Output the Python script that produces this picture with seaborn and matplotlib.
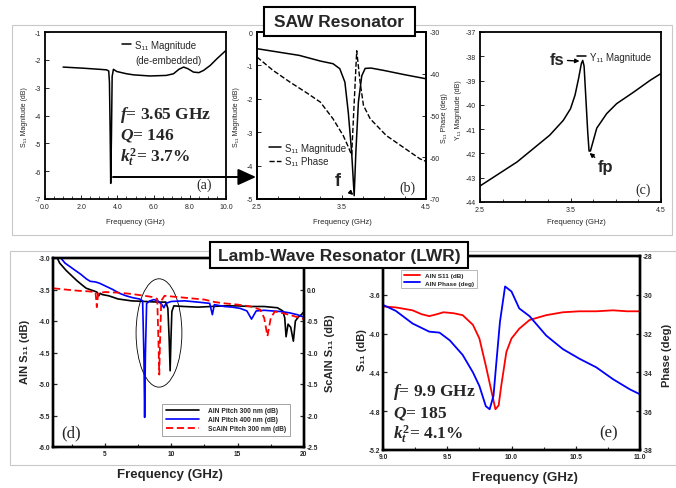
"""SAW and Lamb-wave resonator response panels."""
import matplotlib
matplotlib.use("Agg")
import matplotlib.pyplot as plt
import seaborn as sns
from matplotlib.patches import Rectangle, Ellipse, FancyArrowPatch
from matplotlib.ticker import MultipleLocator, FormatStrFormatter

W, H = 676, 489

# (a) SAW S11 magnitude, de-embedded, wide sweep
a_freq = [1.0, 2.1, 3.0, 3.4, 3.52, 3.56, 3.6, 3.63, 3.67, 3.71, 3.78, 3.97, 4.5, 4.9,
          5.8, 6.7, 7.1, 7.4, 7.66, 7.9, 8.2, 8.5, 8.76, 9.13, 9.5, 10.0]
a_mag = [-2.26, -2.3, -2.34, -2.36, -2.4, -2.8, -4.6, -6.44, -4.8, -2.6, -2.34, -2.42, -2.5, -2.54,
         -2.58, -2.56, -2.5, -2.34, -2.26, -2.32, -2.44, -2.46, -2.38, -2.2, -1.96, -1.66]

# (b) SAW S11 magnitude and phase, zoomed
b_freq = [2.5, 2.75, 3.0, 3.25, 3.4, 3.48, 3.54, 3.58, 3.62, 3.65, 3.67, 3.70, 3.74, 3.78,
          3.85, 4.0, 4.25, 4.5]
b_mag = [-0.5, -0.6, -0.7, -0.87, -0.95, -1.1, -1.5, -2.4, -3.6, -4.9, -3.6, -2.1, -1.31, -1.09,
         -1.08, -1.15, -1.28, -1.4]
b_phase_freq = [2.5, 2.69, 2.89, 3.09, 3.25, 3.4, 3.52, 3.58, 3.62, 3.65, 3.68, 3.72, 3.76,
                3.84, 4.03, 4.23, 4.43, 4.5]
b_phase = [-36, -39.2, -42, -44.6, -46.8, -50.8, -54.8, -57.5, -59.5, -47, -34.5, -42, -47.6,
           -50.8, -54.8, -57.6, -60.4, -61]

# (c) SAW Y11 magnitude
c_freq = [2.5, 2.91, 3.27, 3.42, 3.5, 3.55, 3.59, 3.62, 3.635, 3.65, 3.67, 3.69, 3.705, 3.72,
          3.75, 3.79, 3.9, 4.01, 4.2, 4.38, 4.5]
c_y11 = [-43.34, -42.35, -41.25, -40.64, -40.16, -39.6, -38.9, -38.3, -38.17, -38.4, -39.74,
         -41.1, -41.9, -41.9, -41.5, -40.96, -40.36, -39.95, -39.47, -38.99, -38.71]

# (d) LWR broadband S11
d_aln300_freq = [1.2, 1.6, 2.1, 2.6, 2.9, 3.3, 3.6, 4.0, 4.4, 4.55, 4.65, 4.8, 5.3, 6.0, 7.0,
                 8.0, 9.0, 9.6, 9.75, 9.85, 9.92, 9.98, 10.05, 10.2, 11, 12, 13, 14, 15, 16,
                 17, 18, 18.4, 18.55, 18.65, 18.8, 19.0, 19.2, 19.35, 19.6, 19.8, 20.0]
d_aln300 = [-2.9, -3.08, -3.2, -3.3, -3.36, -3.43, -3.48, -3.51, -3.54, -3.6, -3.56, -3.58,
            -3.6, -3.65, -3.68, -3.69, -3.7, -3.7, -3.8, -4.3, -4.79, -4.3, -3.85, -3.76,
            -3.77, -3.78, -3.77, -3.76, -3.76, -3.77, -3.77, -3.79, -3.84, -3.95, -4.25,
            -4.05, -4.1, -4.32, -4.0, -3.93, -3.9, -3.85]
d_aln400_freq = [1.5, 2.0, 2.6, 3.2, 3.6, 3.9, 4.3, 4.6, 5.1, 5.6, 6.1, 6.6, 7.1, 7.6, 7.85,
                 7.95, 8.0, 8.06, 8.15, 8.4, 8.7, 9.0, 9.3, 9.45, 9.6, 10, 11, 12, 12.9, 13.1,
                 13.25, 14, 14.6, 15.2, 15.7, 16.05, 16.4, 17, 17.6, 18.3, 18.9, 19.5, 20]
d_aln400 = [-2.95, -3.08, -3.17, -3.26, -3.33, -3.37, -3.38, -3.4, -3.45, -3.5, -3.56, -3.6,
            -3.63, -3.65, -3.68, -4.6, -5.53, -4.5, -3.72, -3.68, -3.66, -3.68, -3.74, -3.79,
            -3.72, -3.69, -3.68, -3.7, -3.72, -3.9, -3.74, -3.77, -3.78, -3.8, -3.84, -3.97,
            -3.84, -3.83, -3.84, -3.85, -3.87, -3.9, -3.94]
d_scaln_freq = [1.1, 2.0, 3.0, 3.8, 4.3, 4.4, 4.5, 5.0, 6.0, 7.0, 8.0, 8.6, 8.95, 9.05, 9.1,
                9.15, 9.25, 9.5, 10.5, 11.5, 12.5, 13.3, 14.0, 15.0, 16.0, 16.7, 17.0, 17.25,
                17.5, 17.8, 18.5, 19.2, 20.0]
d_scaln = [0.02, 0.0, -0.02, -0.03, -0.04, -0.28, -0.06, -0.04, -0.05, -0.07, -0.1, -0.12,
           -0.15, -0.9, -1.35, -0.9, -0.18, -0.1, -0.12, -0.14, -0.16, -0.2, -0.22, -0.24,
           -0.27, -0.32, -0.45, -0.74, -0.45, -0.35, -0.38, -0.42, -0.47]

# (e) LWR zoom around 9.9 GHz
e_freq_s11 = [9.0, 9.1, 9.23, 9.3, 9.36, 9.42, 9.47, 9.55, 9.62, 9.7, 9.75, 9.8, 9.84, 9.875,
              9.9, 9.92, 9.96, 10.0, 10.06, 10.14, 10.27, 10.4, 10.53, 10.66, 10.79, 10.9, 11.0]
e_s11 = [-3.72, -3.73, -3.76, -3.8, -3.82, -3.8, -3.78, -3.79, -3.81, -3.91, -4.05, -4.33,
         -4.57, -4.78, -4.74, -4.54, -4.19, -4.05, -3.95, -3.86, -3.81, -3.78, -3.77, -3.77,
         -3.76, -3.77, -3.77]
e_freq_phase = [9.0, 9.1, 9.23, 9.36, 9.44, 9.52, 9.62, 9.7, 9.75, 9.8, 9.83, 9.86, 9.88, 9.91,
                9.95, 10.0, 10.06, 10.14, 10.27, 10.4, 10.53, 10.66, 10.79, 10.92, 11.0]
e_phase = [-30.52, -30.83, -31.48, -31.9, -31.95, -32.35, -33.1, -34.0, -34.7, -35.74, -35.9,
           -35.2, -33.65, -31.4, -29.57, -29.83, -30.7, -31.1, -32.1, -32.8, -33.3, -33.74,
           -34.35, -34.87, -35.13]

sns.set_theme(style="white")
plt.rcParams["font.family"] = ["Liberation Sans", "DejaVu Sans"]
plt.rcParams["axes.unicode_minus"] = False
plt.rcParams["mathtext.fontset"] = "custom"
plt.rcParams["mathtext.rm"] = "Liberation Serif:bold"
plt.rcParams["mathtext.it"] = "Liberation Serif:italic:bold"
plt.rcParams["mathtext.bf"] = "Liberation Serif:bold"


def box(l, t, r, b):
    return [l / W, 1 - b / H, (r - l) / W, (b - t) / H]


def fpt(x, y):
    return (x / W, 1 - y / H)


def ftext(x, y, s, **kw):
    kw.setdefault("ha", "center")
    kw.setdefault("va", "center")
    fig.text(x / W, 1 - y / H, s, **kw)


def frame(ax, lw):
    for sp in ax.spines.values():
        sp.set_visible(True)
        sp.set_linewidth(lw)
        sp.set_color("black")


def bold_labels(ax):
    for lab in ax.get_xticklabels() + ax.get_yticklabels():
        lab.set_fontweight("bold")


fig = plt.figure(figsize=(W / 100, H / 100), dpi=100)

# section frames
fig.add_artist(Rectangle(fpt(12, 236), 660 / W, 210 / H, transform=fig.transFigure,
                         fill=False, ec="#c8c8c8", lw=0.8, zorder=0.5))
fig.add_artist(Rectangle(fpt(10, 466), 666 / W, 214 / H, transform=fig.transFigure,
                         fill=False, ec="#c8c8c8", lw=0.8, zorder=0.5))

upper_tick = dict(labelsize=5, direction="in", length=3, width=0.7, pad=3)

# ---- (a)
ax_a = fig.add_axes(box(45, 33, 226, 200))
sns.lineplot(x=a_freq, y=a_mag, ax=ax_a, color="black", lw=1.1, sort=False,
             estimator=None, label="S₁₁ Magnitude")
ax_a.set_xlim(0, 10)
ax_a.set_ylim(-7, -1)
ax_a.xaxis.set_major_locator(MultipleLocator(2))
ax_a.xaxis.set_minor_locator(MultipleLocator(0.5))
ax_a.xaxis.set_major_formatter(FormatStrFormatter("%.1f"))
ax_a.yaxis.set_major_locator(MultipleLocator(1))
ax_a.yaxis.set_major_formatter(FormatStrFormatter("%d"))
ax_a.tick_params(bottom=True, left=True, **upper_tick)
ax_a.tick_params(axis="x", which="minor", bottom=True, direction="in", length=2, width=0.6)
frame(ax_a, 1.3)
ax_a.legend(loc="upper left", bbox_to_anchor=fpt(117, 36), bbox_transform=fig.transFigure,
            frameon=False, fontsize=7, handlelength=0.9, handletextpad=0.5, borderpad=0)
ftext(135, 61, "(de-embedded)", fontsize=7, ha="left")
ftext(120, 115, "$f$= 3.65 GHz", family="Liberation Serif", weight="bold", fontsize=12.5, ha="left")
ftext(120, 136, "$Q$= 146", family="Liberation Serif", weight="bold", fontsize=12.5, ha="left")
ftext(120, 157, "$k_t^2$= 3.7%", family="Liberation Serif", weight="bold", fontsize=12.5, ha="left")
ftext(204, 185, "(a)", family="Liberation Serif", fontsize=10)
ftext(25, 117, "S₁₁ Magnitude (dB)", fontsize=5, rotation=90)
ftext(135, 223, "Frequency (GHz)", fontsize=5.5)

# ---- (b)
ax_b = fig.add_axes(box(257, 33, 426, 200))
sns.lineplot(x=b_freq, y=b_mag, ax=ax_b, color="black", lw=1.1, sort=False,
             estimator=None, label="S₁₁ Magnitude")
ax_b.set_xlim(2.5, 4.5)
ax_b.set_ylim(-5, 0)
ax_b.set_xticks([2.5, 3.5, 4.5])
ax_b.xaxis.set_minor_locator(MultipleLocator(0.25))
ax_b.xaxis.set_major_formatter(FormatStrFormatter("%.1f"))
ax_b.yaxis.set_major_formatter(FormatStrFormatter("%d"))
ax_b.tick_params(bottom=True, left=True, **upper_tick)
ax_b.tick_params(axis="x", which="minor", bottom=True, direction="in", length=2, width=0.6)
ax_b2 = ax_b.twinx()
sns.lineplot(x=b_phase_freq, y=b_phase, ax=ax_b2, color="black", lw=1.0, ls="--",
             sort=False, estimator=None, label="S₁₁ Phase")
ax_b2.set_ylim(-70, -30)
ax_b2.set_yticks([-70, -60, -50, -40, -30])
ax_b2.yaxis.set_major_formatter(FormatStrFormatter("%d"))
ax_b2.tick_params(right=True, labelright=True, **upper_tick)
frame(ax_b, 1.3)
frame(ax_b2, 1.3)
h1, l1 = ax_b.get_legend_handles_labels()
h2, l2 = ax_b2.get_legend_handles_labels()
ax_b2.get_legend().remove()
ax_b.legend(h1 + h2, l1 + l2, loc="upper left", bbox_to_anchor=fpt(264, 139),
            bbox_transform=fig.transFigure, frameon=False, fontsize=7, handlelength=1.2,
            handletextpad=0.5, borderpad=0, labelspacing=0.35)
ax_b.annotate("f", xy=(3.64, -4.88), xytext=(3.45, -4.45), fontsize=13, weight="bold",
              ha="center", va="center",
              arrowprops=dict(arrowstyle="-|>", color="black", lw=1, mutation_scale=6,
                              shrinkA=6, shrinkB=0))
ftext(407, 188, "(b)", family="Liberation Serif", fontsize=10)
ftext(237, 117, "S₁₁ Magnitude (dB)", fontsize=5, rotation=90)
ftext(444, 118, "S₁₁ Phase (deg)", fontsize=5, rotation=90)
ftext(342, 223, "Frequency (GHz)", fontsize=5.5)

# ---- (c)
ax_c = fig.add_axes(box(480, 33, 661, 203))
sns.lineplot(x=c_freq, y=c_y11, ax=ax_c, color="black", lw=1.1, sort=False,
             estimator=None, label="Y₁₁ Magnitude")
ax_c.set_xlim(2.5, 4.5)
ax_c.set_ylim(-44, -37)
ax_c.set_xticks([2.5, 3.5, 4.5])
ax_c.xaxis.set_minor_locator(MultipleLocator(0.25))
ax_c.xaxis.set_major_formatter(FormatStrFormatter("%.1f"))
ax_c.yaxis.set_major_locator(MultipleLocator(1))
ax_c.yaxis.set_major_formatter(FormatStrFormatter("%d"))
ax_c.tick_params(bottom=True, left=True, **upper_tick)
ax_c.tick_params(axis="x", which="minor", bottom=True, direction="in", length=2, width=0.6)
frame(ax_c, 1.3)
ax_c.legend(loc="upper left", bbox_to_anchor=fpt(572, 48), bbox_transform=fig.transFigure,
            frameon=False, fontsize=7, handlelength=0.9, handletextpad=0.5, borderpad=0)
arrow_small = dict(arrowstyle="-|>", color="black", lw=1, mutation_scale=6, shrinkA=0, shrinkB=0)
ax_c.annotate("fs", xy=(3.6, -38.2), xytext=(3.35, -38.15), fontsize=12, weight="bold",
              ha="center", va="center", arrowprops={**arrow_small, "shrinkA": 9})
ax_c.annotate("fp", xy=(3.71, -41.98), xytext=(3.89, -42.55), fontsize=12, weight="bold",
              ha="center", va="center", arrowprops={**arrow_small, "shrinkA": 8})
ftext(643, 190, "(c)", family="Liberation Serif", fontsize=10)
ftext(459, 110, "Y₁₁ Magnitude (dB)", fontsize=5, rotation=90)
ftext(576, 223, "Frequency (GHz)", fontsize=5.5)

# arrow from (a) to (b)
fig.add_artist(FancyArrowPatch(fpt(113, 178), fpt(256, 178), transform=fig.transFigure,
                               arrowstyle="-|>,head_length=1.1,head_width=0.5",
                               mutation_scale=10, lw=1.4, color="black", shrinkA=0, shrinkB=0,
                               zorder=5))

# title boxes
fig.add_artist(Rectangle(fpt(264, 37), 151 / W, 29 / H, transform=fig.transFigure,
                         fc="white", ec="black", lw=1.5, zorder=4))
ftext(339.5, 22.5, "SAW Resonator", fontsize=12.5, weight="bold", zorder=6)

lower_tick = dict(labelsize=4.8, direction="in", length=3, width=0.9, pad=2)

# ---- (d)
ax_d = fig.add_axes(box(53, 259, 304, 448))
sns.lineplot(x=d_aln300_freq, y=d_aln300, ax=ax_d, color="black", lw=1.2, sort=False,
             estimator=None, label="AlN Pitch 300 nm (dB)")
sns.lineplot(x=d_aln400_freq, y=d_aln400, ax=ax_d, color="#0000ff", lw=1.2, sort=False,
             estimator=None, label="AlN Pitch 400 nm (dB)")
ax_d.set_xlim(1.1, 20)
ax_d.set_ylim(-6, -3)
ax_d.set_xticks([5, 10, 15, 20])
ax_d.set_xticklabels(["5", "10", "15", "20"])
ax_d.xaxis.set_minor_locator(MultipleLocator(2.5))
ax_d.set_yticks([-6, -5.5, -5, -4.5, -4, -3.5, -3])
ax_d.set_yticklabels(["-6.0", "-5.5", "-5.0", "-4.5", "-4.0", "-3.5", "-3.0"])
ax_d.tick_params(bottom=True, left=True, **lower_tick)
ax_d.tick_params(axis="x", which="minor", bottom=True, direction="in", length=2.5, width=0.8)
bold_labels(ax_d)
ax_d.add_patch(Ellipse((9.08, -4.19), 3.45, 1.72, fill=False, ec="black", lw=0.6))
ax_d2 = ax_d.twinx()
sns.lineplot(x=d_scaln_freq, y=d_scaln, ax=ax_d2, color="#ff0000", lw=1.3, ls=(0, (4, 2)),
             sort=False, estimator=None, label="ScAlN Pitch 300 nm (dB)")
ax_d2.set_ylim(-2.5, 0.5)
ax_d2.set_yticks([-2.5, -2, -1.5, -1, -0.5, 0])
ax_d2.set_yticklabels(["-2.5", "-2.0", "-1.5", "-1.0", "-0.5", "0.0"])
ax_d2.tick_params(right=True, labelright=True, **lower_tick)
bold_labels(ax_d2)
frame(ax_d, 1.7)
frame(ax_d2, 1.7)
h1, l1 = ax_d.get_legend_handles_labels()
h2, l2 = ax_d2.get_legend_handles_labels()
ax_d2.get_legend().remove()
leg = ax_d.legend(h1 + h2, l1 + l2, loc="lower right", bbox_to_anchor=fpt(293, 440),
                  bbox_transform=fig.transFigure, fontsize=4.8, handlelength=5,
                  handletextpad=1.4, borderpad=0.5, labelspacing=0.3, fancybox=False,
                  frameon=True, prop={"weight": "bold", "size": 4.8})
leg.get_frame().set_edgecolor("#777777")
leg.get_frame().set_linewidth(0.6)
ftext(71, 433, "(d)", family="Liberation Serif", fontsize=12)
ftext(25, 352, "AlN S₁₁ (dB)", fontsize=8, weight="bold", rotation=90)
ftext(330, 353, "ScAlN S₁₁ (dB)", fontsize=8, weight="bold", rotation=90)
ftext(170, 475, "Frequency (GHz)", fontsize=9.5, weight="bold")

# ---- (e)
ax_e = fig.add_axes(box(383, 257, 640, 451))
sns.lineplot(x=e_freq_s11, y=e_s11, ax=ax_e, color="#ff0000", lw=1.3, sort=False,
             estimator=None, label="AlN S11 (dB)")
ax_e.set_xlim(9, 11)
ax_e.set_ylim(-5.2, -3.2)
ax_e.set_xticks([9, 9.5, 10, 10.5, 11])
ax_e.set_xticklabels(["9.0", "9.5", "10.0", "10.5", "11.0"])
ax_e.xaxis.set_minor_locator(MultipleLocator(0.25))
ax_e.set_yticks([-5.2, -4.8, -4.4, -4.0, -3.6])
ax_e.set_yticklabels(["-5.2", "-4.8", "-4.4", "-4.0", "-3.6"])
ax_e.tick_params(bottom=True, left=True, **lower_tick)
ax_e.tick_params(axis="x", which="minor", bottom=True, direction="in", length=2.5, width=0.8)
bold_labels(ax_e)
ax_e2 = ax_e.twinx()
sns.lineplot(x=e_freq_phase, y=e_phase, ax=ax_e2, color="#0000ff", lw=1.3, sort=False,
             estimator=None, label="AlN Phase (deg)")
ax_e2.set_ylim(-38, -28)
ax_e2.set_yticks([-38, -36, -34, -32, -30, -28])
ax_e2.set_yticklabels(["-38", "-36", "-34", "-32", "-30", "-28"])
ax_e2.tick_params(right=True, labelright=True, **lower_tick)
bold_labels(ax_e2)
frame(ax_e, 1.7)
frame(ax_e2, 1.7)
h1, l1 = ax_e.get_legend_handles_labels()
h2, l2 = ax_e2.get_legend_handles_labels()
ax_e2.get_legend().remove()
leg = ax_e.legend(h1 + h2, l1 + l2, loc="upper left", bbox_to_anchor=fpt(398, 268),
                  bbox_transform=fig.transFigure, handlelength=2.6, handletextpad=0.8,
                  borderpad=0.4, labelspacing=0.3, fancybox=False, frameon=True,
                  prop={"weight": "bold", "size": 4.6})
leg.get_frame().set_edgecolor("#999999")
leg.get_frame().set_linewidth(0.6)
ftext(393, 392, "$f$= 9.9 GHz", family="Liberation Serif", weight="bold", fontsize=12.5, ha="left")
ftext(393, 413, "$Q$= 185", family="Liberation Serif", weight="bold", fontsize=12.5, ha="left")
ftext(393, 434, "$k_t^2$= 4.1%", family="Liberation Serif", weight="bold", fontsize=12.5, ha="left")
ftext(609, 433, "(e)", family="Liberation Serif", fontsize=12)
ftext(362, 350, "S₁₁ (dB)", fontsize=8, weight="bold", rotation=90)
ftext(667, 355, "Phase (deg)", fontsize=8, weight="bold", rotation=90)
ftext(525, 478, "Frequency (GHz)", fontsize=9.5, weight="bold")

fig.add_artist(Rectangle(fpt(210, 269), 258 / W, 26 / H, transform=fig.transFigure,
                         fc="white", ec="black", lw=1.5, zorder=4))
ftext(339, 256, "Lamb-Wave Resonator (LWR)", fontsize=12.5, weight="bold", zorder=6)

fig.savefig("out.png", dpi=100)
plt.close(fig)
